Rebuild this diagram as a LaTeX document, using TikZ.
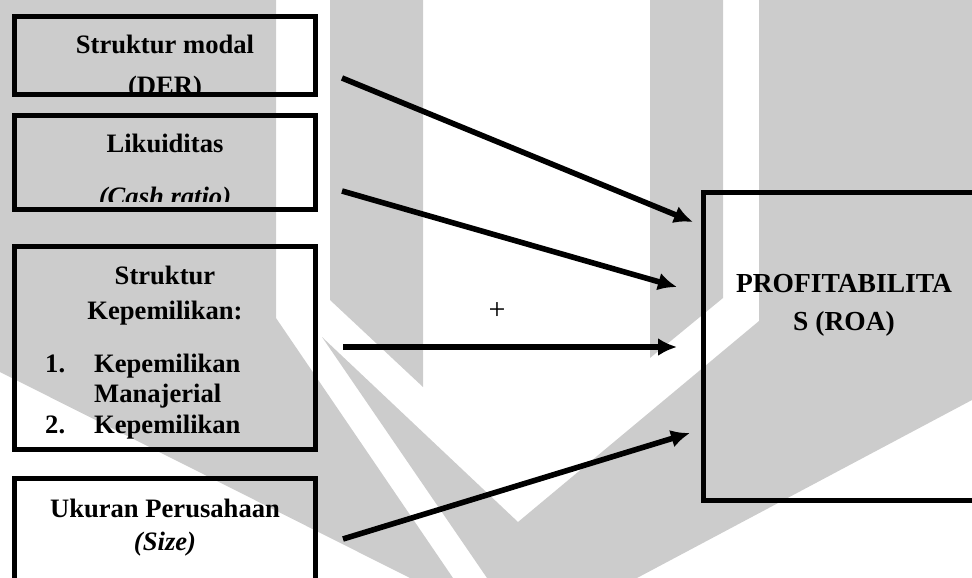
\documentclass[tikz,border=0pt]{standalone}
\usepackage{fontspec}
\setmainfont{Liberation Serif}
\usepackage{tikz}
\usetikzlibrary{arrows.meta,positioning}
\tikzstyle{block} = [draw, rectangle, line width=5pt, inner sep=0pt]
\tikzstyle{txt} = [inner sep=0pt, anchor=base, font=\fontsize{26.6}{31}\selectfont\bfseries]
\tikzstyle{plus} = [inner sep=0pt, font=\fontsize{30}{32}\selectfont]
\tikzstyle{wm} = [fill=gray!40]
\tikzstyle{conn} = [->, line width=5.6pt]

\begin{document}
\begin{tikzpicture}[x=1pt, y=-1pt, >={Latex[length=19pt, width=18pt]}]
    \useasboundingbox (0,0) rectangle (972,578);
    % watermark behind the diagram
    \fill [wm] (0,0) -- (276,0) -- (276,318) -- (453,578) -- (410,578) -- (0,372) -- cycle;
    \fill [wm] (330,0) -- (423,0) -- (423,387) -- (330,300) -- cycle;
    \fill [wm] (650,0) -- (723,0) -- (723,298) -- (650,358) -- cycle;
    \fill [wm] (759,0) -- (972,0) -- (972,400) -- (637,578) -- (487,578) -- (322,337)
        -- (518,522) -- (759,321) -- cycle;

    \node [block, minimum width=301pt, minimum height=78pt] (der) at (165.2,55.7) {};
    \node [block, minimum width=301pt, minimum height=93.7pt] (liq) at (165.2,162.8) {};
    \node [block, minimum width=301pt, minimum height=203pt] (own) at (165.2,348) {};
    \node [block, minimum width=301pt, minimum height=132pt] (size) at (165.2,544) {};
    \node [block, minimum width=283pt, minimum height=308pt] (roa) at (845.3,346) {};

    \begin{scope}
      \clip (der.north west) rectangle ([yshift=4.7pt]der.south east);
      \node [txt] (derA) at (165,54) {Struktur modal};
      \node [txt] (derB) at (165,94) {(DER)};
    \end{scope}
    \begin{scope}
      \clip (liq.north west) rectangle ([yshift=10.7pt]liq.south east);
      \node [txt] (liqA) at (165,152) {Likuiditas};
      \node [txt] (liqB) at (165,205) {\itshape (Cash ratio)};
    \end{scope}

    \node [txt] (ownA) at (165,284) {Struktur};
    \node [txt] (ownB) at (165,319) {Kepemilikan:};
    \node [txt, anchor=base west] (no1) at (45,372) {1.};
    \node [txt, anchor=base west] (kep1) at (94,372) {Kepemilikan};
    \node [txt, anchor=base west] (man) at (94,402) {Manajerial};
    \node [txt, anchor=base west] (no2) at (45,433) {2.};
    \node [txt, anchor=base west] (kep2) at (94,433) {Kepemilikan};

    \node [txt] (sizeA) at (165,517) {Ukuran Perusahaan};
    \node [txt] (sizeB) at (165,550) {\itshape (Size)};

    \node [txt, font=\fontsize{27.5}{31}\selectfont\bfseries] (roaA) at (844,292) {PROFITABILITA};
    \node [txt, font=\fontsize{27.5}{31}\selectfont\bfseries] (roaB) at (844,330) {S (ROA)};

    \node [plus] (pos) at (497,311) {+};

    \coordinate (s1) at (342,78);
    \coordinate (e1) at (693,222);
    \coordinate (s2) at (342,191);
    \coordinate (e2) at (677,287);
    \coordinate (s3) at (343,347);
    \coordinate (e3) at (677,347);
    \coordinate (s4) at (343,539);
    \coordinate (e4) at (690,433);
    \draw [conn] (s1) -- (e1);
    \draw [conn] (s2) -- (e2);
    \draw [conn] (s3) -- (e3);
    \draw [conn] (s4) -- (e4);
\end{tikzpicture}
\end{document}
